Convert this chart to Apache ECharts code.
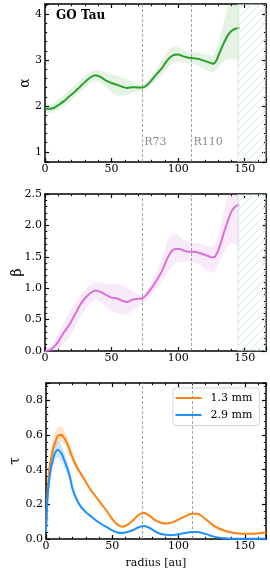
<!DOCTYPE html>
<html><head><meta charset="utf-8">
<script src="https://cdn.jsdelivr.net/npm/echarts@6/dist/echarts.min.js"></script>
<style>html,body{margin:0;padding:0;background:#fff}#c{width:270px;height:573px}</style>
</head><body><div id="c"></div>
<script>
// ---------- data ----------
const radiusAB = [0,3,6,10,14,18,22,26,30,34,38,42,46,50,54,58,62,66,70,73,76,80,84,88,92,96,100,104,108,112,116,120,124,126,128,131,134,137,140,143,146];
const alpha    = [1.94,1.94,1.95,2.02,2.10,2.20,2.30,2.41,2.52,2.62,2.67,2.63,2.55,2.50,2.46,2.42,2.39,2.41,2.40,2.40,2.44,2.56,2.70,2.83,3.00,3.10,3.12,3.08,3.05,3.04,3.02,2.98,2.94,2.92,2.95,3.15,3.35,3.52,3.63,3.68,3.70];
const alphaLo  = [1.86,1.85,1.86,1.92,1.99,2.08,2.18,2.29,2.40,2.50,2.55,2.50,2.40,2.30,2.22,2.22,2.24,2.30,2.33,2.34,2.38,2.47,2.58,2.68,2.82,2.93,2.97,2.95,2.93,2.91,2.87,2.80,2.74,2.73,2.76,2.88,2.97,3.02,3.03,3.00,2.97];
const alphaHi  = [2.02,2.03,2.06,2.15,2.24,2.34,2.44,2.56,2.66,2.75,2.79,2.77,2.73,2.69,2.66,2.62,2.57,2.53,2.48,2.46,2.52,2.66,2.83,3.00,3.20,3.30,3.28,3.22,3.17,3.17,3.16,3.13,3.10,3.10,3.20,3.45,3.80,4.15,4.40,4.50,4.50];
const beta     = [0.00,0.01,0.05,0.15,0.29,0.41,0.56,0.72,0.84,0.92,0.965,0.94,0.89,0.85,0.84,0.80,0.78,0.82,0.83,0.84,0.89,1.00,1.13,1.28,1.48,1.61,1.63,1.60,1.58,1.58,1.56,1.53,1.50,1.49,1.51,1.65,1.86,2.05,2.22,2.30,2.33];
const betaLo   = [0.00,0.00,0.00,0.02,0.12,0.22,0.35,0.52,0.65,0.76,0.82,0.78,0.70,0.65,0.60,0.58,0.58,0.65,0.72,0.75,0.80,0.90,1.00,1.10,1.25,1.37,1.42,1.42,1.42,1.41,1.38,1.30,1.25,1.25,1.28,1.40,1.55,1.68,1.72,1.70,1.66];
const betaHi   = [0.03,0.06,0.12,0.27,0.45,0.60,0.75,0.88,0.98,1.06,1.10,1.09,1.07,1.07,1.07,1.05,1.00,0.95,0.90,0.88,0.95,1.10,1.28,1.50,1.75,1.87,1.84,1.77,1.73,1.72,1.71,1.68,1.66,1.67,1.72,1.90,2.20,2.45,2.65,2.75,2.75];

const radiusTau = [0,1,2,3,4,5,6,7,8,9,10,11,12,13,14,16,18,20,23,26,30,34,38,42,46,50,54,58,62,66,70,74,78,82,86,90,94,98,102,106,110,114,118,122,126,130,135,140,145,150,155,160,166];
const tau13 = [0.05,0.25,0.36,0.43,0.47,0.51,0.54,0.56,0.58,0.595,0.60,0.60,0.60,0.59,0.58,0.55,0.51,0.47,0.42,0.38,0.33,0.28,0.24,0.20,0.16,0.115,0.083,0.07,0.085,0.11,0.14,0.15,0.135,0.11,0.095,0.09,0.093,0.105,0.12,0.135,0.145,0.145,0.13,0.105,0.08,0.062,0.048,0.038,0.032,0.03,0.03,0.033,0.037];
const tau29 = [0.04,0.22,0.31,0.37,0.42,0.45,0.48,0.50,0.51,0.515,0.51,0.50,0.49,0.47,0.45,0.41,0.36,0.29,0.23,0.19,0.155,0.13,0.105,0.085,0.068,0.05,0.038,0.035,0.042,0.052,0.068,0.075,0.065,0.045,0.03,0.025,0.022,0.025,0.03,0.036,0.04,0.04,0.035,0.025,0.015,0.008,0.004,0.002,0.001,0.001,0.001,0.001,0.001];
const radiusTauBand = [0,1,2,3,4,5,6,7,8,9,10,11,12,13,14,16,18,20,23,26,30];
const tau13Hi = [0.06,0.28,0.40,0.47,0.52,0.56,0.59,0.61,0.63,0.645,0.65,0.65,0.645,0.635,0.62,0.59,0.545,0.50,0.44,0.39,0.34];
const tau13Lo = [0.04,0.22,0.33,0.40,0.43,0.47,0.50,0.52,0.54,0.55,0.555,0.56,0.56,0.555,0.545,0.52,0.48,0.44,0.40,0.37,0.32];
const tau29Hi = [0.05,0.25,0.35,0.42,0.47,0.51,0.54,0.555,0.56,0.565,0.56,0.55,0.535,0.515,0.495,0.45,0.39,0.32,0.25,0.20,0.163];
const tau29Lo = [0.03,0.19,0.27,0.33,0.38,0.41,0.44,0.46,0.47,0.47,0.465,0.455,0.445,0.43,0.41,0.37,0.33,0.27,0.21,0.18,0.147];

const ringRadii  = [73, 110];
const ringLabels = ['R73', 'R110'];
const hatchStart = 145;
const xMax = 166;
const legendNames = ['1.3 mm', '2.9 mm'];

// ---------- styling helpers ----------
const FONT = 'DejaVu Serif';
const pairs = (xs, ys) => xs.map((x, i) => [x, ys[i]]);
const isMult = (v, step) => Math.abs(v / step - Math.round(v / step)) < 1e-6;

const hatchCanvas = document.createElement('canvas');
hatchCanvas.width = 8; hatchCanvas.height = 8;
(function () {
  const c = hatchCanvas.getContext('2d');
  c.strokeStyle = '#d3eae2'; c.lineWidth = 1;
  c.beginPath();
  c.moveTo(0, 8); c.lineTo(8, 0);
  c.moveTo(-1, 1); c.lineTo(1, -1);
  c.moveTo(7, 9); c.lineTo(9, 7);
  c.stroke();
})();
const hatchFill = { image: hatchCanvas, repeat: 'repeat' };

const grids = [
  { left: 45, top: 4, width: 221, height: 158 },
  { left: 45, top: 194, width: 221, height: 157 },
  { left: 45, top: 383, width: 221, height: 156 }
];

const tickCommon = {
  axisLine: { show: true, onZero: false, lineStyle: { color: '#000', width: 1.5 } },
  axisTick: { show: true, inside: true, length: 4, lineStyle: { color: '#000', width: 1.2 } },
  minorTick: { show: true, splitNumber: 5, length: 2.2, lineStyle: { color: '#000', width: 1 } },
  splitLine: { show: false }
};
const labelCommon = { fontFamily: FONT, fontSize: 11, color: '#000' };

const xAxes = [], yAxes = [];
const yDefs = [
  { min: 0.78, max: 4.22, splitNumber: 3, step: 1, dec: 0, name: 'α', gap: 13 },
  { min: 0, max: 2.5, interval: 0.5, step: 0.5, dec: 1, name: 'β', gap: 21 },
  { min: 0, max: 0.9, interval: 0.2, step: 0.2, dec: 1, name: 'τ', gap: 24 }
];
grids.forEach((g, gi) => {
  const xc = Object.assign({ type: 'value', gridIndex: gi, min: 0, max: xMax, interval: 50 }, tickCommon);
  xAxes.push(Object.assign({}, xc, {
    position: 'bottom',
    axisLabel: Object.assign({ margin: 2, formatter: v => isMult(v, 50) ? String(Math.round(v)) : '' }, labelCommon),
    name: gi === 2 ? 'radius [au]' : '',
    nameLocation: 'middle', nameGap: 19, nameMoveOverlap: false,
    nameTextStyle: { fontFamily: FONT, fontSize: 11, color: '#000' }
  }));
  xAxes.push(Object.assign({}, xc, { position: 'top', axisLabel: { show: false } }));
  const d = yDefs[gi];
  const yc = Object.assign({ type: 'value', gridIndex: gi, min: d.min, max: d.max }, tickCommon);
  if (d.interval) yc.interval = d.interval; else yc.splitNumber = d.splitNumber;
  yAxes.push(Object.assign({}, yc, {
    position: 'left',
    axisLabel: Object.assign({ margin: 3, formatter: v => isMult(v, d.step) ? v.toFixed(d.dec) : '' }, labelCommon),
    name: d.name, nameLocation: 'middle', nameRotate: 90, nameGap: d.gap, nameMoveOverlap: false,
    nameTextStyle: { fontFamily: FONT, fontSize: 14, color: '#000' }
  }));
  yAxes.push(Object.assign({}, yc, { position: 'right', axisLabel: { show: false } }));
});

function band(gi, xs, lo, hi, color) {
  return {
    type: 'custom', xAxisIndex: 2 * gi, yAxisIndex: 2 * gi, silent: true, z: 1, clip: true,
    data: [[xs[0], lo[0]]],
    renderItem: function (params, api) {
      const pts = [];
      for (let i = 0; i < xs.length; i++) pts.push(api.coord([xs[i], hi[i]]));
      for (let i = xs.length - 1; i >= 0; i--) pts.push(api.coord([xs[i], lo[i]]));
      return { type: 'polygon', shape: { points: pts }, style: { fill: color } };
    }
  };
}
function hatch(gi) {
  const d = yDefs[gi];
  return {
    type: 'custom', xAxisIndex: 2 * gi, yAxisIndex: 2 * gi, silent: true, z: 3, clip: true,
    data: [[hatchStart, d.min]],
    renderItem: function (params, api) {
      const p0 = api.coord([hatchStart, d.max]);
      const p1 = api.coord([xMax, d.min]);
      return { type: 'rect', shape: { x: p0[0], y: p0[1], width: p1[0] - p0[0], height: p1[1] - p0[1] },
        style: { fill: hatchFill, stroke: '#cfe7dd', lineWidth: 1 } };
    }
  };
}
const ringMark = {
  silent: true, symbol: 'none', label: { show: false },
  lineStyle: { type: [3, 2], color: '#8c8c8c', width: 0.8 },
  data: ringRadii.map(r => ({ xAxis: r }))
};
function line(gi, name, xs, ys, color, withMark) {
  const s = {
    type: 'line', name: name, xAxisIndex: 2 * gi, yAxisIndex: 2 * gi, z: 2,
    data: pairs(xs, ys), smooth: 0.3, showSymbol: false, symbol: 'none',
    lineStyle: { color: color, width: 2 }, itemStyle: { color: color }
  };
  if (withMark) s.markLine = ringMark;
  return s;
}

const series = [
  band(0, radiusAB, alphaLo, alphaHi, 'rgba(44,160,44,0.12)'),
  line(0, 'alpha', radiusAB, alpha, '#2ca02c', true),
  hatch(0),
  {
    type: 'custom', xAxisIndex: 0, yAxisIndex: 0, silent: true, z: 4,
    data: ringRadii.map(r => [r, 1.21]),
    renderItem: function (params, api) {
      const p = api.coord([api.value(0), api.value(1)]);
      return { type: 'text', x: p[0] + 2, y: p[1],
        style: { text: ringLabels[params.dataIndex], fill: '#8c8c8c', font: '11px "DejaVu Serif"', align: 'left', verticalAlign: 'middle' } };
    }
  },
  band(1, radiusAB, betaLo, betaHi, 'rgba(218,112,214,0.15)'),
  line(1, 'beta', radiusAB, beta, '#da70d6', true),
  hatch(1),
  band(2, radiusTauBand, tau13Lo, tau13Hi, 'rgba(255,127,14,0.22)'),
  band(2, radiusTauBand, tau29Lo, tau29Hi, 'rgba(30,144,255,0.22)'),
  line(2, legendNames[0], radiusTau, tau13, '#ff7f0e', true),
  line(2, legendNames[1], radiusTau, tau29, '#1e90ff', false)
];

const chart = echarts.init(document.getElementById('c'), null, { renderer: 'canvas' });
chart.setOption({
  animation: false,
  backgroundColor: '#fff',
  title: { text: 'GO Tau', left: 56, top: 10, padding: 0,
    textStyle: { fontFamily: FONT, fontWeight: 'bold', fontSize: 12, color: '#000' } },
  legend: {
    data: legendNames.map(n => ({ name: n, icon: 'rect' })),
    orient: 'vertical', left: 173, top: 388, itemWidth: 26, itemHeight: 2, itemGap: 6,
    padding: [4.5, 7, 5, 2.5], selectedMode: false,
    borderColor: '#d4d4d4', borderWidth: 1, borderRadius: 3, backgroundColor: 'rgba(255,255,255,0.85)',
    textStyle: { fontFamily: FONT, fontSize: 11, color: '#000', padding: [0, 0, 0, 4] }
  },
  grid: grids,
  xAxis: xAxes,
  yAxis: yAxes,
  series: series
});
</script></body></html>
